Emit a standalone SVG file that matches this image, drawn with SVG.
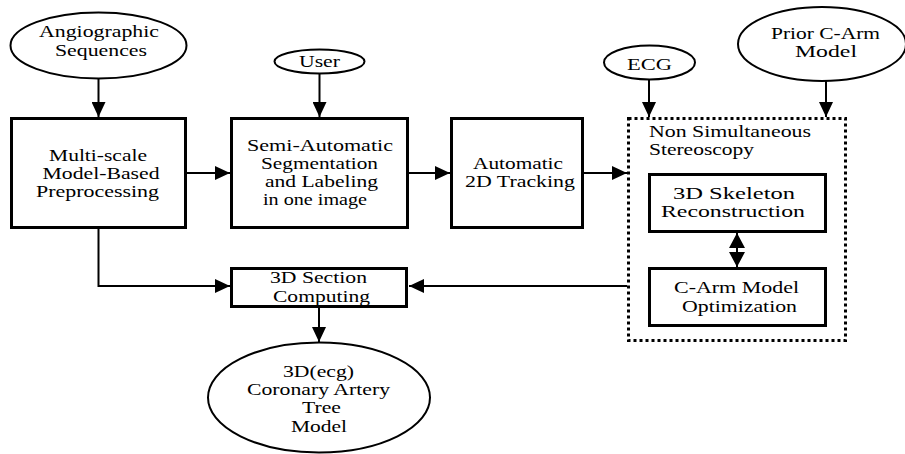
<svg xmlns="http://www.w3.org/2000/svg" width="905" height="454" viewBox="0 0 905 454" font-family="'Liberation Serif', 'DejaVu Serif', 'Times New Roman', serif">
<style>
text{font-family:'Liberation Serif','DejaVu Serif','Times New Roman',serif;font-size:17px;fill:#000;text-anchor:middle}
.l{text-anchor:start}
.box{fill:#fff;stroke:#000;stroke-width:3}
.ell{fill:#fff;stroke:#000;stroke-width:2}
.dot{fill:none;stroke:#000;stroke-width:3;stroke-dasharray:3 3}
.c{fill:none;stroke:#000;stroke-width:2}
</style>
<defs>
<marker id="ah" markerUnits="userSpaceOnUse" markerWidth="15" markerHeight="14" refX="15" refY="7" orient="auto">
<path d="M0,0 L15,7 L0,14 z" fill="#000"/>
</marker>
<marker id="as" markerUnits="userSpaceOnUse" markerWidth="15" markerHeight="16" refX="0" refY="8" orient="auto">
<path d="M15,0 L0,8 L15,16 z" fill="#000"/>
</marker>
<marker id="ae" markerUnits="userSpaceOnUse" markerWidth="15" markerHeight="16" refX="15" refY="8" orient="auto">
<path d="M0,0 L15,8 L0,16 z" fill="#000"/>
</marker>
</defs>
<g id="connectors">
<line class="c" x1="98.5" y1="79" x2="98.5" y2="117" marker-end="url(#ah)"/>
<line class="c" x1="319.5" y1="73" x2="319.5" y2="117" marker-end="url(#ah)"/>
<line class="c" x1="649" y1="80" x2="649" y2="117" marker-end="url(#ah)"/>
<line class="c" x1="826" y1="81" x2="826" y2="117" marker-end="url(#ah)"/>
<line class="c" x1="187" y1="173" x2="230" y2="173" marker-end="url(#ah)"/>
<line class="c" x1="409" y1="173" x2="450" y2="173" marker-end="url(#ah)"/>
<line class="c" x1="584" y1="173" x2="627" y2="173" marker-end="url(#ah)"/>
<polyline class="c" points="98.5,229 98.5,286 230,286" marker-end="url(#ah)"/>
<line class="c" x1="627" y1="286" x2="409" y2="286" marker-end="url(#ah)"/>
<line class="c" x1="319" y1="308" x2="319" y2="342" marker-end="url(#ah)"/>
<line class="c" x1="737" y1="233" x2="737" y2="267" marker-start="url(#as)" marker-end="url(#ae)"/>
</g>
<g id="angio">
<ellipse class="ell" cx="98.5" cy="45.5" rx="88" ry="33"/>
<text x="99" y="37" textLength="120" lengthAdjust="spacingAndGlyphs">Angiographic</text>
<text x="101" y="56" textLength="92" lengthAdjust="spacingAndGlyphs">Sequences</text>
</g>
<g id="user">
<ellipse class="ell" cx="319.5" cy="61.5" rx="45" ry="12"/>
<text x="319.5" y="67" textLength="41" lengthAdjust="spacingAndGlyphs">User</text>
</g>
<g id="ecg">
<ellipse class="ell" cx="649.5" cy="62.5" rx="45.5" ry="17"/>
<text x="649.5" y="70" textLength="45" lengthAdjust="spacingAndGlyphs">ECG</text>
</g>
<g id="prior">
<ellipse class="ell" cx="822" cy="44" rx="84" ry="37"/>
<text x="825.5" y="39" textLength="109" lengthAdjust="spacingAndGlyphs">Prior C-Arm</text>
<text x="826" y="57" textLength="62" lengthAdjust="spacingAndGlyphs">Model</text>
</g>
<g id="preprocessing">
<rect class="box" x="11.5" y="118.5" width="174" height="109"/>
<text x="98" y="161" textLength="98" lengthAdjust="spacingAndGlyphs">Multi-scale</text>
<text x="101" y="179" textLength="117" lengthAdjust="spacingAndGlyphs">Model-Based</text>
<text x="97.5" y="197" textLength="123" lengthAdjust="spacingAndGlyphs">Preprocessing</text>
</g>
<g id="segmentation">
<rect class="box" x="231.5" y="118.5" width="176" height="109"/>
<text x="320" y="151" textLength="146" lengthAdjust="spacingAndGlyphs">Semi-Automatic</text>
<text x="319.5" y="169" textLength="117" lengthAdjust="spacingAndGlyphs">Segmentation</text>
<text x="321.5" y="187" textLength="113" lengthAdjust="spacingAndGlyphs">and Labeling</text>
<text x="315" y="205" textLength="104" lengthAdjust="spacingAndGlyphs">in one image</text>
</g>
<g id="tracking">
<rect class="box" x="451.5" y="118.5" width="131" height="109"/>
<text x="518" y="168.5" textLength="90" lengthAdjust="spacingAndGlyphs">Automatic</text>
<text x="520" y="187" textLength="110" lengthAdjust="spacingAndGlyphs">2D Tracking</text>
</g>
<g id="stereoscopy">
<rect class="dot" x="628.5" y="118.5" width="217" height="222"/>
<text class="l" x="649" y="137" textLength="162" lengthAdjust="spacingAndGlyphs">Non Simultaneous</text>
<text class="l" x="649" y="155" textLength="105" lengthAdjust="spacingAndGlyphs">Stereoscopy</text>
</g>
<g id="skeleton">
<rect class="box" x="649.5" y="174.5" width="176" height="57"/>
<text x="734" y="199" textLength="122" lengthAdjust="spacingAndGlyphs">3D Skeleton</text>
<text x="733" y="217" textLength="144" lengthAdjust="spacingAndGlyphs">Reconstruction</text>
</g>
<g id="optimization">
<rect class="box" x="649.5" y="268.5" width="176" height="57"/>
<text x="736.5" y="293" textLength="125" lengthAdjust="spacingAndGlyphs">C-Arm Model</text>
<text x="739.5" y="312" textLength="115" lengthAdjust="spacingAndGlyphs">Optimization</text>
</g>
<g id="section">
<rect class="box" x="231.5" y="268.5" width="175" height="38"/>
<text x="318.5" y="283" textLength="97" lengthAdjust="spacingAndGlyphs">3D Section</text>
<text x="321.5" y="302" textLength="97" lengthAdjust="spacingAndGlyphs">Computing</text>
</g>
<g id="model">
<ellipse class="ell" cx="319" cy="397.5" rx="111" ry="55"/>
<text x="318.5" y="377" textLength="71" lengthAdjust="spacingAndGlyphs">3D(ecg)</text>
<text x="318.5" y="395" textLength="143" lengthAdjust="spacingAndGlyphs">Coronary Artery</text>
<text x="321.5" y="413" textLength="39" lengthAdjust="spacingAndGlyphs">Tree</text>
<text x="319" y="432" textLength="56" lengthAdjust="spacingAndGlyphs">Model</text>
</g>
</svg>
